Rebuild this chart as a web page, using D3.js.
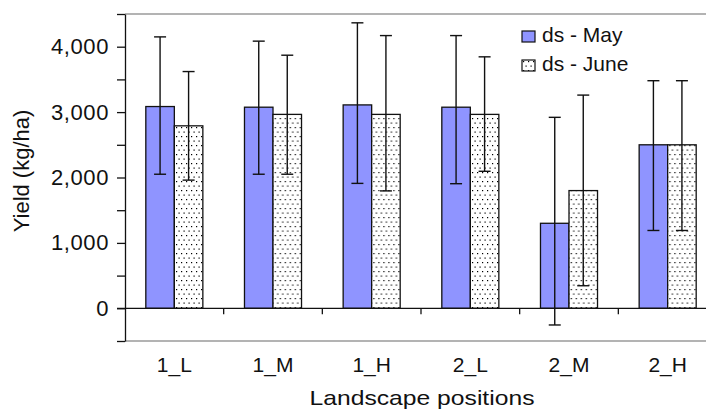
<!DOCTYPE html>
<html>
<head>
<meta charset="utf-8">
<script src="https://cdn.jsdelivr.net/npm/d3@7"></script>
<style>
  html, body { margin: 0; padding: 0; background: #fff; }
  svg { display: block; font-family: "Liberation Sans", Arial, sans-serif; }
</style>
</head>
<body>
<svg id="chart" width="706" height="412"></svg>
<script>
const categories = ["1_L", "1_M", "1_H", "2_L", "2_M", "2_H"];
const seriesNames = ["ds - May", "ds - June"];
const mayValues  = [3085, 3075, 3110, 3075, 1300, 2500];
const mayHigh    = [4150, 4085, 4365, 4170, 2920, 3480];
const mayLow     = [2050, 2050, 1910, 1905, -255, 1190];
const juneValues = [2790, 2965, 2965, 2965, 1800, 2500];
const juneHigh   = [3620, 3870, 4170, 3845, 3260, 3480];
const juneLow    = [1960, 2050, 1795, 2095, 345, 1190];
const yTickValues = [-500, 0, 500, 1000, 1500, 2000, 2500, 3000, 3500, 4000, 4500];
const yLabelValues = [0, 1000, 2000, 3000, 4000];

const svg = d3.select("#chart");
const FONT = 21;

const defs = svg.append("defs");
const pat = defs.append("pattern").attr("id", "dots")
  .attr("patternUnits", "userSpaceOnUse").attr("width", 5).attr("height", 9);
pat.append("rect").attr("width", 5).attr("height", 9).attr("fill", "#fff");
pat.append("rect").attr("x", 1).attr("y", 1).attr("width", 1.2).attr("height", 1.2).attr("fill", "#000");
pat.append("rect").attr("x", 3.5).attr("y", 5.5).attr("width", 1.2).attr("height", 1.2).attr("fill", "#000");

const fills = ["#8f94ff", "url(#dots)"];

const x = d3.scaleBand().domain(categories).range([125, 717]).padding(0);
const xs = d3.scaleBand().domain(seriesNames).range([0, x.bandwidth()])
  .paddingInner(0).paddingOuter(0.73);
const y = d3.scaleLinear().domain([-500, 4500]).range([341, 14]);

const data = categories.map((c, i) => ({
  cat: c,
  vals: [
    { s: seriesNames[0], v: mayValues[i], hi: mayHigh[i], lo: mayLow[i], k: 0 },
    { s: seriesNames[1], v: juneValues[i], hi: juneHigh[i], lo: juneLow[i], k: 1 }
  ]
}));

// frame lines (gray top and bottom)
svg.append("line").attr("x1", 125).attr("x2", 706).attr("y1", y(4500)).attr("y2", y(4500))
  .attr("stroke", "#9a9a9a").attr("stroke-width", 1.5);
svg.append("line").attr("x1", 125).attr("x2", 706).attr("y1", y(-500)).attr("y2", y(-500))
  .attr("stroke", "#9a9a9a").attr("stroke-width", 1.5);

// bars
const groups = svg.append("g").selectAll("g").data(data).join("g")
  .attr("transform", d => `translate(${x(d.cat)},0)`);

groups.selectAll("rect").data(d => d.vals).join("rect")
  .attr("x", d => xs(d.s))
  .attr("width", xs.bandwidth())
  .attr("y", d => y(Math.max(0, d.v)))
  .attr("height", d => Math.abs(y(d.v) - y(0)))
  .attr("fill", d => fills[d.k])
  .attr("stroke", "#111").attr("stroke-width", 1.3);

// x axis zero line
svg.append("line").attr("x1", 117).attr("x2", 717).attr("y1", y(0)).attr("y2", y(0))
  .attr("stroke", "#111").attr("stroke-width", 1.3);

// error bars
const eb = groups.selectAll("g.err").data(d => d.vals).join("g").attr("class", "err");
eb.append("line")
  .attr("x1", d => xs(d.s) + xs.bandwidth() / 2).attr("x2", d => xs(d.s) + xs.bandwidth() / 2)
  .attr("y1", d => y(d.hi)).attr("y2", d => y(d.lo))
  .attr("stroke", "#111").attr("stroke-width", 1.4);
["hi", "lo"].forEach(key => {
  eb.append("line")
    .attr("x1", d => xs(d.s) + xs.bandwidth() / 2 - 6).attr("x2", d => xs(d.s) + xs.bandwidth() / 2 + 6)
    .attr("y1", d => y(d[key])).attr("y2", d => y(d[key]))
    .attr("stroke", "#111").attr("stroke-width", 1.4);
});

// category boundary ticks
svg.append("g").selectAll("line").data(categories.slice(1)).join("line")
  .attr("x1", d => x(d)).attr("x2", d => x(d))
  .attr("y1", y(0)).attr("y2", y(0) + 6)
  .attr("stroke", "#111").attr("stroke-width", 1.3);

// category labels
const xAxis = d3.axisBottom(x).tickSize(0).tickPadding(16);
const gx = svg.append("g").attr("transform", `translate(0,${y(-500)})`).call(xAxis);
gx.select(".domain").remove();
gx.selectAll("text").attr("font-size", FONT).attr("fill", "#111")
  .attr("font-family", "'Liberation Sans', Arial, sans-serif");

// y axis
const fmt = d3.format(",");
const yAxis = d3.axisLeft(y).tickValues(yTickValues).tickSize(8).tickSizeOuter(0).tickPadding(8)
  .tickFormat(v => yLabelValues.includes(v) ? fmt(v) : "");
const gy = svg.append("g").attr("transform", "translate(125,0)").call(yAxis);
gy.select(".domain").attr("stroke", "#111").attr("stroke-width", 1.3);
gy.selectAll(".tick line").attr("stroke", "#111").attr("stroke-width", 1.3);
gy.selectAll("text").attr("font-size", 22).attr("fill", "#111")
  .attr("letter-spacing", "0.6px")
  .attr("font-family", "'Liberation Sans', Arial, sans-serif");

// axis titles
svg.append("text").attr("x", 422).attr("y", 405).attr("text-anchor", "middle")
  .attr("font-size", FONT).attr("fill", "#111")
  .attr("textLength", 225).attr("lengthAdjust", "spacingAndGlyphs")
  .text("Landscape  positions");
svg.append("text").attr("transform", "translate(29,171) rotate(-90)")
  .attr("text-anchor", "middle").attr("font-size", 22).attr("fill", "#111")
  .text("Yield (kg/ha)");

// legend
const leg = svg.append("g").selectAll("g").data(seriesNames).join("g")
  .attr("transform", (d, i) => `translate(522,${31 + i * 29})`);
leg.append("rect").attr("width", 13).attr("height", 11)
  .attr("fill", (d, i) => fills[i]).attr("stroke", "#111").attr("stroke-width", 1.2);
leg.append("text").attr("x", 20).attr("y", 11).attr("font-size", FONT).attr("fill", "#111")
  .text(d => d);
</script>
</body>
</html>
